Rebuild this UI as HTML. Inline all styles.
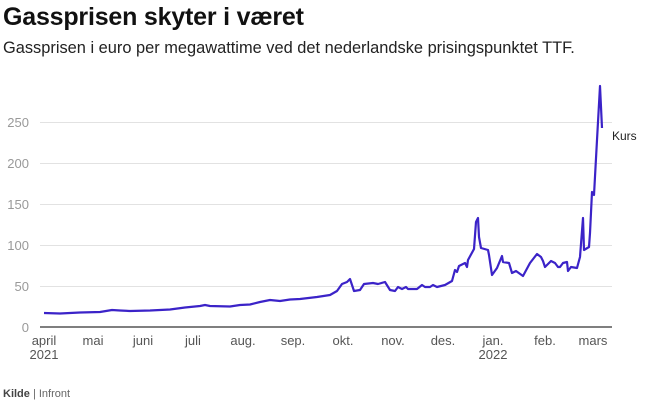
<!DOCTYPE html>
<html><head><meta charset="utf-8"><style>
body{margin:0;width:650px;height:403px;background:#fff;font-family:"Liberation Sans",sans-serif;overflow:hidden;position:relative}
.t{position:absolute;left:3px;top:3px;font-size:25px;font-weight:bold;color:#111;letter-spacing:-0.2px}
.s{position:absolute;left:3px;top:39px;font-size:16.4px;color:#222}
.f{position:absolute;left:3px;top:388px;font-size:11px;color:#666}
</style></head><body>
<div class="t">Gassprisen skyter i været</div>
<div class="s">Gassprisen i euro per megawattime ved det nederlandske prisingspunktet TTF.</div>
<svg width="650" height="403" style="position:absolute;left:0;top:0" font-family="Liberation Sans, sans-serif">
<g stroke="#e2e2e2" stroke-width="1">
<line x1="40" x2="612" y1="286.5" y2="286.5"/><line x1="40" x2="612" y1="245.5" y2="245.5"/><line x1="40" x2="612" y1="204.5" y2="204.5"/><line x1="40" x2="612" y1="163.5" y2="163.5"/><line x1="40" x2="612" y1="122.5" y2="122.5"/>
</g>
<line x1="40" x2="612" y1="327" y2="327" stroke="#333" stroke-width="1.2"/>
<g fill="#999" font-size="13" text-anchor="end">
<text x="29" y="332">0</text><text x="29" y="291">50</text><text x="29" y="250">100</text><text x="29" y="209">150</text><text x="29" y="168">200</text><text x="29" y="127">250</text>
</g>
<g fill="#555" font-size="13" text-anchor="middle">
<text x="44" y="345">april</text><text x="44" y="359">2021</text><text x="93" y="345">mai</text><text x="143" y="345">juni</text><text x="193" y="345">juli</text><text x="243" y="345">aug.</text><text x="293" y="345">sep.</text><text x="343" y="345">okt.</text><text x="393" y="345">nov.</text><text x="443" y="345">des.</text><text x="493" y="345">jan.</text><text x="493" y="359">2022</text><text x="545" y="345">feb.</text><text x="593" y="345">mars</text>
</g>
<polyline fill="none" stroke="#3b23c8" stroke-width="2.2" stroke-linejoin="round" points="44,313 60,313.5 70,313 80,312.5 100,312 112,310 120,310.5 130,311 150,310.5 170,309.5 185,307.5 200,306 205,305 210,306 230,306.5 240,305 250,304.5 260,302 270,300 280,301 290,299.5 300,299 317,297 330,295 337,291 342,284 347,282 350,279 354,291 360,290 364,284 373,283 378,284 385,282 390,290 395,291 398,287 402,289 406,287 408,289 417,289 422,285 425,287 430,287 433,285 437,287 445,285 452,281 455,270 457,272 459,266 465,263 467,267 468,260 474,249 476,222 478,218 479,237 481,248 488,250 489,255 492,275 497,268 502,256 503,262 509,263 512,273 516,271 523,276 530,263 537,254 541,257 543,261 545,267 551,261 555,263 558,267 560,267 563,263 567,262 568,271 571,267 577,268 580,257 583,218 584,250 589,247 590,233 592,192 594,195 597,140 600,86 602,128"/>
<text x="612" y="140" font-size="12" fill="#222">Kurs</text>
</svg>
<div class="f"><b style="color:#444">Kilde</b> | Infront</div>
</body></html>
